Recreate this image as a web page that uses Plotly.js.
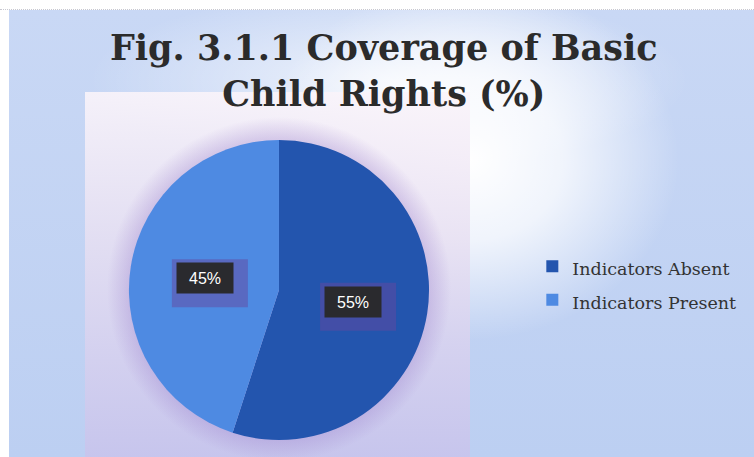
<!DOCTYPE html>
<html>
<head>
<meta charset="utf-8">
<script src="https://cdn.plot.ly/plotly-3.0.1.min.js"></script>
<style>
  html, body { margin:0; padding:0; width:754px; height:457px; overflow:hidden; background:#ffffff; }
  #wrap { position:relative; width:754px; height:457px; }
  #bg { position:absolute; left:9px; top:10px; width:745px; height:447px;
        background:
          radial-gradient(ellipse 210px 180px at 460px 150px, rgba(255,255,255,1) 0%, rgba(255,255,255,0.75) 45%, rgba(255,255,255,0) 100%),
          radial-gradient(ellipse 300px 90px at 380px 70px, rgba(255,255,255,0.7) 0%, rgba(255,255,255,0) 100%),
          linear-gradient(180deg, #c9d8f5 0%, #bccff2 100%); }
  #panel { position:absolute; left:85px; top:92px; width:385px; height:365px;
        background: linear-gradient(180deg, rgba(250,244,250,0.9) 0%, rgba(232,224,242,0.85) 40%, rgba(200,196,236,0.9) 100%); }
  #glow { position:absolute; left:100px; top:110px; width:360px; height:360px;
        background: radial-gradient(circle at 179px 179px, rgba(150,120,200,0.5) 0px, rgba(150,120,200,0.3) 150px, rgba(170,140,210,0) 172px); }
  #topline { position:absolute; left:0; top:9px; width:754px; height:0; border-top:1px dotted #c8c8d0; }
  #chart { position:absolute; left:0; top:0; width:754px; height:457px; }
</style>
</head>
<body>
<div id="wrap">
  <div id="bg"></div>
  <div id="panel"></div>
  <div id="glow"></div>
  <div id="topline"></div>
  <div id="chart"></div>
</div>
<script>
const categories = ["Indicators Absent", "Indicators Present"];
const values = [55, 45];
const colors = ["#2355AE", "#4E8AE2"];
const titleText = "Fig. 3.1.1 Coverage of Basic<br>Child Rights (%)";

const W = 754, H = 457;
const domX = [0.171, 0.569];
const domY = [0.037, 0.694];

// label positions derived from the slice values (mid-angle of each slice)
const total = values.reduce((a, b) => a + b, 0);
const cx = (domX[0] + domX[1]) / 2, cy = (domY[0] + domY[1]) / 2;
const rPx = Math.min((domX[1] - domX[0]) * W, (domY[1] - domY[0]) * H) / 2;
const annotations = [];
const shapes = [];
let cum = 0;
values.forEach((v, i) => {
  const mid = (cum + v / 2) / total * 2 * Math.PI; // clockwise from 12 o'clock
  cum += v;
  const px = cx + 0.5 * rPx * Math.sin(mid) / W;
  const py = cy + 0.5 * rPx * Math.cos(mid) / H;
  const pct = Math.round(v / total * 100) + "%";
  // translucent purple "shadow" behind the label box
  shapes.push({
    type: "rect", xref: "paper", yref: "paper", layer: "above",
    x0: px - 33 / W, x1: px + 43 / W,
    y0: py - 29 / H, y1: py + 19 / H,
    fillcolor: "rgba(100,72,160,0.5)", line: {width: 0}
  });
  annotations.push({
    x: px, y: py, xref: "paper", yref: "paper", showarrow: false,
    xanchor: "center", yanchor: "middle",
    text: pct, font: {family: "Liberation Sans, Arial", size: 16, color: "#ffffff"},
    bgcolor: "#2a2a2e", borderpad: 3, width: 50, height: 24
  });
});

const data = [{
  type: "pie",
  labels: categories.map(l => '<span style="font-size:17.5px">' + l + '</span>'),
  values: values,
  sort: false,
  direction: "clockwise",
  rotation: 0,
  marker: {colors: colors, line: {width: 0}},
  textinfo: "none",
  hoverinfo: "label+percent",
  domain: {x: domX, y: domY}
}];

const layout = {
  width: W, height: H,
  margin: {l: 0, r: 0, t: 0, b: 0},
  paper_bgcolor: "rgba(0,0,0,0)",
  plot_bgcolor: "rgba(0,0,0,0)",
  title: {
    text: titleText,
    font: {family: "DejaVu Serif", size: 35, color: "#2b2b2b", weight: "bold"},
    x: 0.509, xanchor: "center",
    y: 0.868, yanchor: "top"
  },
  showlegend: true,
  legend: {
    x: 0.706, y: 0.465, xanchor: "left", yanchor: "top",
    itemwidth: 30,
    font: {family: "DejaVu Serif", size: 23.5, color: "#333333"},
    bgcolor: "rgba(0,0,0,0)",
    itemclick: false
  },
  shapes: shapes,
  annotations: annotations
};

Plotly.newPlot("chart", data, layout, {displayModeBar: false, staticPlot: true});
</script>
</body>
</html>
